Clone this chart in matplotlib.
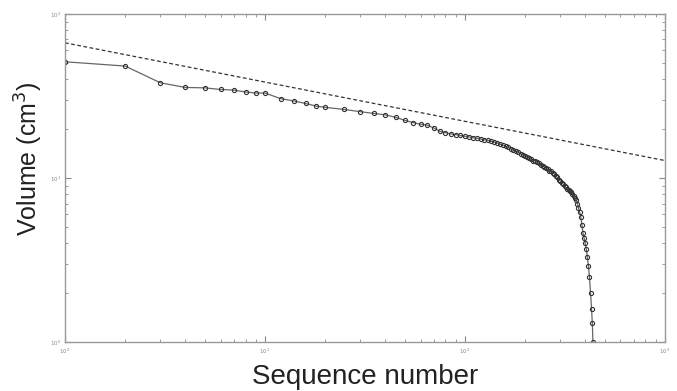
"""
plot.py - volume vs. sequence number (log-log) with a reference power-law line.
"""

import matplotlib

matplotlib.use("Agg")
import matplotlib.pyplot as plt

# ---- data ------------------------------------------------------------------
seq = [
    1, 2, 3, 4, 5, 6, 7, 8, 9, 10,
    12, 14, 16, 18, 20, 25, 30, 35, 40, 45, 50, 55, 60, 65, 70, 75, 80, 85, 90, 95,
    100, 105, 110, 115, 120, 125, 130, 135, 140, 145, 150, 155, 160, 165,
    170, 175, 180, 185, 190, 195, 200, 205, 210, 215, 220, 225, 230, 235,
    240, 245, 250, 255, 260, 265, 270, 275, 280, 285, 290, 295, 300, 305,
    310, 315, 320, 325, 330, 335, 340, 345, 350, 355, 360, 365, 370, 375,
    380, 385, 390, 395, 400, 405, 410, 415, 420, 425, 430, 434, 437,
]
volume = [
    51.2, 48.2, 38.1, 35.7, 35.5, 34.7, 34.4, 33.5, 33.0, 33.0,
    30.5, 29.5, 28.5, 27.5, 27.0, 26.2, 25.4, 24.8, 24.3, 23.5, 22.5, 21.8,
    21.3, 21.0, 20.2, 19.3, 18.9, 18.6, 18.4, 18.2,
    18.0, 17.8, 17.6, 17.5, 17.3, 17.1, 17.0, 16.8, 16.6, 16.4, 16.1, 15.9,
    15.6, 15.4, 15.1, 14.9, 14.6, 14.4, 14.1, 13.9, 13.6, 13.4, 13.2, 13.0,
    12.8, 12.7, 12.5, 12.3, 12.1, 11.9, 11.7, 11.5, 11.3, 11.1, 11.0, 10.8,
    10.6, 10.3, 10.1, 9.8, 9.6, 9.4, 9.2, 9.0, 8.8, 8.6, 8.5, 8.3, 8.2, 8.0,
    7.8, 7.6, 7.4, 7.0, 6.6, 6.2, 5.8, 5.2, 4.6, 4.3, 4.0, 3.7, 3.3, 2.9,
    2.5, 2.0, 1.6, 1.3, 1.0,
]

# reference power-law line (end points)
fit_x = [1, 1000]
fit_y = [66.8, 12.8]

x_ticks = [1, 10, 100, 1000]
x_tick_labels = ["$10^0$", "$10^1$", "$10^2$", "$10^3$"]
y_ticks = [1, 10, 100]
y_tick_labels = ["$10^0$", "$10^1$", "$10^2$"]

# ---- figure ------------------------------------------------------------------
plt.rcParams["font.family"] = ["Liberation Sans", "DejaVu Sans"]

fig = plt.figure(figsize=(6.77, 3.91), dpi=100)
ax = fig.add_axes([0.096, 0.125, 0.886, 0.839])

ax.plot(fit_x, fit_y, color="#333333", lw=0.9, linestyle=(0, (3, 2)))
ax.plot(
    seq,
    volume,
    color="#666666",
    lw=0.9,
    marker="o",
    markersize=3.0,
    markerfacecolor="none",
    markeredgecolor="#333333",
    markeredgewidth=0.8,
)

ax.set_xscale("log")
ax.set_yscale("log")
ax.set_xlim(1, 1000)
ax.set_ylim(1, 100)

ax.set_xticks(x_ticks)
ax.set_xticklabels(x_tick_labels)
ax.set_yticks(y_ticks)
ax.set_yticklabels(y_tick_labels)

for side in ["top", "bottom", "left", "right"]:
    ax.spines[side].set_color("#999999")
    ax.spines[side].set_linewidth(1.0)

ax.tick_params(
    which="both", direction="in", top=True, right=True, colors="#888888",
    labelsize=4, labelcolor="#888888",
)
ax.tick_params(which="major", length=4, width=0.8, pad=3)
ax.tick_params(which="minor", length=2.5, width=0.6)

ax.set_xlabel("Sequence number", fontsize=20, color="#222222", labelpad=6)
ax.set_ylabel("Volume (cm$^3$)", fontsize=18, color="#222222")
ax.yaxis.set_label_coords(-0.033, 0.56)

fig.savefig("out.png", dpi=100)
plt.close(fig)
print("Saved: out.png")
